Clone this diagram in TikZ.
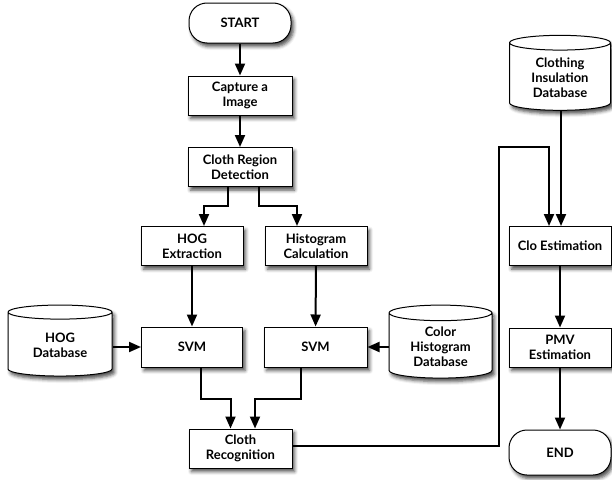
\documentclass[tikz,border=0pt]{standalone}
\usepackage{fontspec}
\setmainfont{Lato}
\usetikzlibrary{shapes.geometric,shadows.blur,arrows.meta,calc}
\tikzset{
  base/.style={draw=black, line width=1pt, fill=white, font=\bfseries\fontsize{13}{15}\selectfont, align=center, inner sep=1pt,
    blur shadow={shadow xshift=2.5pt, shadow yshift=-3.5pt, shadow blur radius=3.5pt, shadow opacity=70}},
  proc/.style={base, rectangle, minimum width=#1, minimum height=39pt},
  term/.style={base, rectangle, rounded corners=18pt, minimum width=102pt, minimum height=#1},
  db/.style={base, cylinder, shape border rotate=90, aspect=0.25, minimum width=#1},
  arr/.style={line width=2pt, -{Triangle[width=10pt,length=12pt]}},
  ln/.style={line width=2pt}
}
\begin{document}
\begin{tikzpicture}[x=1pt,y=-1pt]
\useasboundingbox (0,0) rectangle (612,479);
\node[term=40pt] (start) at (240,23) {START};
\node[proc=104pt] (cap) at (240,95.5) {Capture a\\Image};
\node[proc=104pt] (crd) at (240,167) {Cloth Region\\Detection};
\node[proc=102pt] (hog) at (192,246) {HOG\\Extraction};
\node[proc=102pt] (hist) at (316,246) {Histogram\\Calculation};
\node[proc=101pt, minimum height=40pt] (svma) at (192,347) {SVM};
\node[proc=103pt, minimum height=40pt] (svmb) at (315.5,347) {SVM};
\node[db=104pt, minimum height=71pt] (hogdb) at (60,345) {HOG\\Database};
\node[db=103pt, minimum height=73pt] (chdb) at (440.5,346.5) {Color\\Histogram\\Database};
\node[proc=103pt] (cr) at (240.5,448.5) {Cloth\\Recognition};
\node[db=101pt, minimum height=75pt] (cidb) at (560,77.5) {Clothing\\Insulation\\Database};
\node[proc=102pt] (clo) at (560,246) {Clo Estimation};
\node[proc=102pt] (pmv) at (560,347.5) {PMV\\Estimation};
\node[term=45pt] (end) at (560,452.5) {END};

\draw[arr] (start) -- (cap);
\draw[arr] (cap) -- (crd);
\draw[arr] ([xshift=-12pt]crd.south) -- ++(0,19) -| ([xshift=12pt]hog.north);
\draw[arr] ([xshift=19pt]crd.south) -- ++(0,19) -| ([xshift=-19pt]hist.north);
\draw[arr] (hog) -- (svma);
\draw[arr] (hist) -- (svmb);
\draw[arr] (hogdb.east |- svma.west) -- (svma.west);
\draw[arr] (chdb.west |- svmb.east) -- (svmb.east);
\draw[arr] ([xshift=9pt]svma.south) -- ++(0,31) -| ([xshift=-10pt]cr.north);
\draw[arr] ([xshift=-14.5pt]svmb.south) -- ++(0,31) -| ([xshift=14.5pt]cr.north);
\coordinate (ja) at (499,446);
\coordinate (jb) at (499,147);
\draw[arr] ([yshift=2.5pt]cr.east) -- (ja) -- (jb) -| ([xshift=-11pt]clo.north);
\draw[arr] ([xshift=1pt]cidb.south) -- ([xshift=1pt]clo.north);
\draw[arr] (clo) -- (pmv);
\draw[arr] (pmv) -- (end);
\end{tikzpicture}
\end{document}
